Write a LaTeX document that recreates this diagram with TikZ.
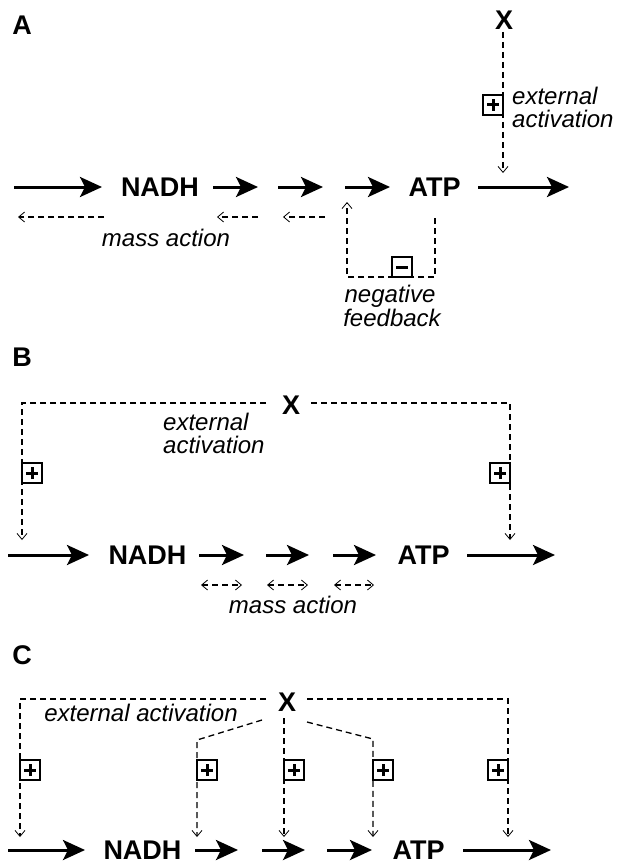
\documentclass[tikz,border=0pt]{standalone}
\usepackage{fontspec}
\setmainfont{Liberation Sans}
\usetikzlibrary{arrows.meta}
\tikzset{
  flow/.style={line width=3pt,-{Stealth[length=22pt,width=20pt,inset=5pt]}},
  big/.style={font=\bfseries\fontsize{27}{27}\selectfont,inner sep=0pt},
  note/.style={font=\itshape\fontsize{24}{27}\selectfont,inner sep=0pt,align=left},
  reg/.style={line width=1.3pt,dash pattern=on 6pt off 4pt},
  rega/.style={reg,-{Straight Barb[length=6pt,width=10pt,line width=0.8pt]}},
  regb/.style={reg,{Straight Barb[length=6pt,width=10pt,line width=0.8pt]}-{Straight Barb[length=6pt,width=10pt,line width=0.8pt]}},
  sgn/.style={draw,line width=1.8pt,minimum size=20pt,inner sep=0pt,fill=white},
  pbox/.style={sgn,path picture={\draw[line width=3pt]
      ([xshift=-6pt]path picture bounding box.center) -- ([xshift=6pt]path picture bounding box.center)
      ([yshift=-6pt]path picture bounding box.center) -- ([yshift=6pt]path picture bounding box.center);}},
  mbox/.style={sgn,path picture={\draw[line width=3pt]
      ([xshift=-6pt]path picture bounding box.center) -- ([xshift=6pt]path picture bounding box.center);}},
}
\begin{document}
\begin{tikzpicture}[x=1pt,y=-1pt]
\useasboundingbox (0,0) rectangle (616,864);

% ================= Panel A =================
\node[big] (LA) at (22,25) {A};
\node[big] (XA) at (504,20) {X};
\node[big] (NA) at (160,187) {NADH};
\node[big] (TA) at (434.5,187) {ATP};
\coordinate (a0s) at (14,187);  \coordinate (a0e) at (102,187);
\coordinate (a1s) at (213,187); \coordinate (a1e) at (258,187);
\coordinate (a2s) at (278,187); \coordinate (a2e) at (323,187);
\coordinate (a3s) at (345,187); \coordinate (a3e) at (390,187);
\coordinate (a4s) at (478,187); \coordinate (a4e) at (569,187);
\draw[flow] (a0s) -- (a0e);
\draw[flow] (a1s) -- (a1e);
\draw[flow] (a2s) -- (a2e);
\draw[flow] (a3s) -- (a3e);
\draw[flow] (a4s) -- (a4e);
% mass action
\coordinate (m0s) at (104,217); \coordinate (m0e) at (18,217);
\coordinate (m1s) at (258,217); \coordinate (m1e) at (217,217);
\coordinate (m2s) at (325,217); \coordinate (m2e) at (283,217);
\draw[rega] (m0s) -- (m0e);
\draw[rega] (m1s) -- (m1e);
\draw[rega] (m2s) -- (m2e);
\node[note] (MA) at (166,238) {mass action};
% negative feedback
\coordinate (f0) at (435,218); \coordinate (f1) at (435,277);
\coordinate (f2) at (347,277); \coordinate (f3) at (347,202);
\draw[rega] (f0) -- (f1) -- (f2) -- (f3);
\node[mbox] (NB) at (402,267) {};
\node[note] (NF1) at (390,296) {negative};
\node[note] (NF2) at (392,318) {feedback};
% external activation
\coordinate (e0) at (503,32); \coordinate (e1) at (503,173);
\draw[rega] (e0) -- (e1);
\node[pbox] (PA) at (493,105) {};
\node[note,anchor=west] (EA1) at (512,96) {external};
\node[note,anchor=west] (EA2) at (512,119) {activation};

% ================= Panel B =================
\node[big] (LB) at (22,357) {B};
\node[big] (XB) at (291,405) {X};
\node[big] (NBn) at (147.5,555) {NADH};
\node[big] (TB) at (423.5,555) {ATP};
\coordinate (b0s) at (8,555);   \coordinate (b0e) at (89,555);
\coordinate (b1s) at (199,555); \coordinate (b1e) at (244,555);
\coordinate (b2s) at (266,555); \coordinate (b2e) at (309,555);
\coordinate (b3s) at (333,555); \coordinate (b3e) at (376,555);
\coordinate (b4s) at (467,555); \coordinate (b4e) at (555,555);
\draw[flow] (b0s) -- (b0e);
\draw[flow] (b1s) -- (b1e);
\draw[flow] (b2s) -- (b2e);
\draw[flow] (b3s) -- (b3e);
\draw[flow] (b4s) -- (b4e);
\coordinate (bm0s) at (201,585); \coordinate (bm0e) at (242,585);
\coordinate (bm1s) at (267,585); \coordinate (bm1e) at (308,585);
\coordinate (bm2s) at (334,585); \coordinate (bm2e) at (374,585);
\draw[regb] (bm0s) -- (bm0e);
\draw[regb] (bm1s) -- (bm1e);
\draw[regb] (bm2s) -- (bm2e);
\node[note] (MB) at (293,605) {mass action};
\coordinate (bl0) at (266,403); \coordinate (bl1) at (22,403); \coordinate (bl2) at (22,540);
\coordinate (br0) at (311,403); \coordinate (br1) at (510,403); \coordinate (br2) at (510,540);
\draw[rega] (bl0) -- (bl1) -- (bl2);
\draw[rega] (br0) -- (br1) -- (br2);
\node[pbox] (PB1) at (32,473) {};
\node[pbox] (PB2) at (500,473) {};
\node[note,anchor=west] (EB1) at (163,422) {external};
\node[note,anchor=west] (EB2) at (163,445) {activation};

% ================= Panel C =================
\node[big] (LC) at (22,655) {C};
\node[big] (XC) at (287,702) {X};
\node[big] (NC) at (142.5,850) {NADH};
\node[big] (TC) at (418.5,850) {ATP};
\coordinate (c0s) at (8,850);   \coordinate (c0e) at (85,850);
\coordinate (c1s) at (195,850); \coordinate (c1e) at (238,850);
\coordinate (c2s) at (262,850); \coordinate (c2e) at (305,850);
\coordinate (c3s) at (327,850); \coordinate (c3e) at (372,850);
\coordinate (c4s) at (463,850); \coordinate (c4e) at (551,850);
\draw[flow] (c0s) -- (c0e);
\draw[flow] (c1s) -- (c1e);
\draw[flow] (c2s) -- (c2e);
\draw[flow] (c3s) -- (c3e);
\draw[flow] (c4s) -- (c4e);
\coordinate (cl0) at (266,699); \coordinate (cl1) at (20,699); \coordinate (cl2) at (20,837);
\coordinate (cr0) at (307,699); \coordinate (cr1) at (508,699); \coordinate (cr2) at (508,837);
\coordinate (cd0) at (262,720); \coordinate (cd1) at (197,740); \coordinate (cd2) at (197,837);
\coordinate (cm0) at (284,718); \coordinate (cm1) at (284,837);
\coordinate (ce0) at (307,722); \coordinate (ce1) at (373,739); \coordinate (ce2) at (373,837);
\draw[rega] (cl0) -- (cl1) -- (cl2);
\draw[rega] (cr0) -- (cr1) -- (cr2);
\draw[rega] (cd0) -- (cd1) -- (cd2);
\draw[rega] (cm0) -- (cm1);
\draw[rega] (ce0) -- (ce1) -- (ce2);
\node[pbox] (PC1) at (30,770) {};
\node[pbox] (PC2) at (207,770) {};
\node[pbox] (PC3) at (294,770) {};
\node[pbox] (PC4) at (383,770) {};
\node[pbox] (PC5) at (498,770) {};
\node[note] (EC) at (141,713) {external activation};
\end{tikzpicture}
\end{document}
